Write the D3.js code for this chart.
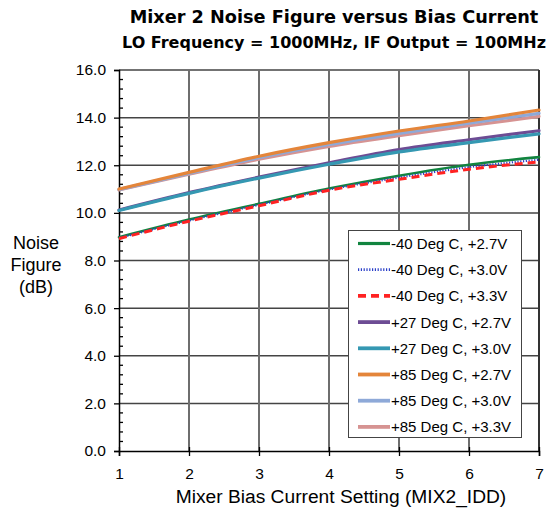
<!DOCTYPE html>
<html><head><meta charset="utf-8">
<script src="https://cdn.jsdelivr.net/npm/d3@7"></script>
<style>body{margin:0;background:#fff}svg{display:block}</style>
</head><body>
<svg id="c" width="551" height="512" font-family="Liberation Sans, Arial, sans-serif"></svg>
<script>
const xValues = [1, 2, 3, 4, 5, 6, 7];
const xTicks = [1, 2, 3, 4, 5, 6, 7];
const yTicks = [0, 2, 4, 6, 8, 10, 12, 14, 16];
const seriesNames = ["-40 Deg C, +2.7V", "-40 Deg C, +3.0V", "-40 Deg C, +3.3V", "+27 Deg C, +2.7V", "+27 Deg C, +3.0V", "+85 Deg C, +2.7V", "+85 Deg C, +3.0V", "+85 Deg C, +3.3V"];
const m40_27 = [8.98, 9.72, 10.38, 11.02, 11.56, 12.02, 12.34];
const m40_30 = [8.95, 9.68, 10.34, 10.98, 11.48, 11.92, 12.23];
const m40_33 = [8.92, 9.65, 10.30, 10.95, 11.41, 11.83, 12.14];
const p27_27 = [10.12, 10.85, 11.50, 12.10, 12.66, 13.07, 13.45];
const p27_30 = [10.10, 10.82, 11.46, 12.04, 12.56, 12.95, 13.32];
const p85_27 = [11.00, 11.70, 12.38, 12.95, 13.44, 13.86, 14.32];
const p85_30 = [10.98, 11.66, 12.32, 12.87, 13.34, 13.77, 14.18];
const p85_33 = [10.96, 11.62, 12.25, 12.79, 13.24, 13.66, 14.05];
const seriesValues = [m40_27, m40_30, m40_33, p27_27, p27_30, p85_27, p85_30, p85_33];

const styles = [
  {c:"#11843f", w:2.6, d:null},
  {c:"#2a3fc8", w:2.2, d:"1.2,1.6"},
  {c:"#ff2222", w:3, d:"8,5"},
  {c:"#6d4c94", w:3.2, d:null},
  {c:"#3598b2", w:3.2, d:null},
  {c:"#e4853a", w:3.2, d:null},
  {c:"#8ea9d8", w:3.2, d:null},
  {c:"#d69392", w:3.2, d:null}
];
const drawOrder = [7, 6, 5, 3, 4, 0, 1, 2];

const svg = d3.select("#c");
const L = 119, R = 539, T = 70, B = 451;
const x = d3.scaleLinear().domain([1, 7]).range([L, R]);
const y = d3.scaleLinear().domain([0, 16]).range([B, T]);

// titles
svg.append("text").attr("x", 334).attr("y", 23).attr("text-anchor", "middle")
  .attr("font-family", "DejaVu Sans, sans-serif")
  .attr("font-size", 17.7).attr("font-weight", "bold").text("Mixer 2 Noise Figure versus Bias Current");
svg.append("text").attr("x", 334).attr("y", 48).attr("text-anchor", "middle")
  .attr("font-family", "DejaVu Sans, sans-serif")
  .attr("font-size", 16).attr("font-weight", "bold").text("LO Frequency = 1000MHz, IF Output = 100MHz");

// gridlines
svg.append("g").selectAll("line").data(yTicks.filter(v => v > 0)).join("line")
  .attr("x1", L).attr("x2", R).attr("y1", d => y(d)).attr("y2", d => y(d))
  .attr("stroke", "#444").attr("stroke-width", 1.5);
svg.append("g").selectAll("line").data(xTicks.filter(v => v > 1)).join("line")
  .attr("x1", d => x(d)).attr("x2", d => x(d)).attr("y1", T).attr("y2", B)
  .attr("stroke", d => d === 7 ? "#333" : "#6e6e6e").attr("stroke-width", 2);

// y axis
const yAxis = d3.axisLeft(y).tickValues(yTicks).tickFormat(d3.format(".1f")).tickSize(5).tickPadding(8);
const gy = svg.append("g").attr("transform", `translate(${L},0)`).call(yAxis);
gy.select(".domain").attr("stroke", "#000").attr("stroke-width", 1.5);
gy.selectAll(".tick line").attr("stroke", "#000").attr("stroke-width", 1.3);
gy.selectAll("text").attr("font-size", 15.5).attr("fill", "#000").attr("font-family", "Liberation Sans, Arial, sans-serif");
const yMinor = d3.range(0, 16.01, 0.4).filter(v => Math.abs(v / 2 - Math.round(v / 2)) > 0.01);
svg.append("g").selectAll("line").data(yMinor).join("line")
  .attr("x1", L).attr("x2", L + 4).attr("y1", d => y(d)).attr("y2", d => y(d))
  .attr("stroke", "#000").attr("stroke-width", 1.3);

// x axis
const xAxis = d3.axisBottom(x).tickValues(xTicks).tickFormat(d3.format("d")).tickSize(5).tickPadding(12);
const gx = svg.append("g").attr("transform", `translate(0,${B})`).call(xAxis);
gx.select(".domain").attr("stroke", "#000").attr("stroke-width", 1.5);
gx.selectAll(".tick line").attr("stroke", "#000").attr("stroke-width", 1.3).attr("y1", -4);
gx.selectAll("text").attr("font-size", 15.5).attr("fill", "#000").attr("font-family", "Liberation Sans, Arial, sans-serif");

// axis titles
svg.append("text").attr("x", 341).attr("y", 503).attr("text-anchor", "middle").attr("font-size", 19.2)
  .text("Mixer Bias Current Setting (MIX2_IDD)");
const yt = svg.append("text").attr("text-anchor", "middle").attr("font-size", 18);
["Noise", "Figure", "(dB)"].forEach((s, i) => yt.append("tspan").attr("x", 36).attr("y", 249 + i * 22).text(s));

// lines
const line = d3.line().x((d, i) => x(xValues[i])).y(d => y(d)).curve(d3.curveMonotoneX);
const gl = svg.append("g");
drawOrder.forEach(k => {
  gl.append("path").datum(seriesValues[k]).attr("d", line).attr("fill", "none")
    .attr("stroke", styles[k].c).attr("stroke-width", styles[k].w)
    .attr("stroke-dasharray", styles[k].d).attr("stroke-linecap", styles[k].d ? "butt" : "round");
});

// legend
const lg = svg.append("g");
lg.append("rect").attr("x", 348.5).attr("y", 230.5).attr("width", 173).attr("height", 207)
  .attr("fill", "#fff").attr("stroke", "#444").attr("stroke-width", 1);
seriesNames.forEach((n, i) => {
  const yy = 243.5 + i * 26.2;
  lg.append("line").attr("x1", 358).attr("x2", 390).attr("y1", yy).attr("y2", yy)
    .attr("stroke", styles[i].c).attr("stroke-width", styles[i].w + 0.6)
    .attr("stroke-dasharray", styles[i].d);
  lg.append("text").attr("x", 391).attr("y", yy + 5.5).attr("font-size", 15).text(n);
});
</script>
</body></html>
